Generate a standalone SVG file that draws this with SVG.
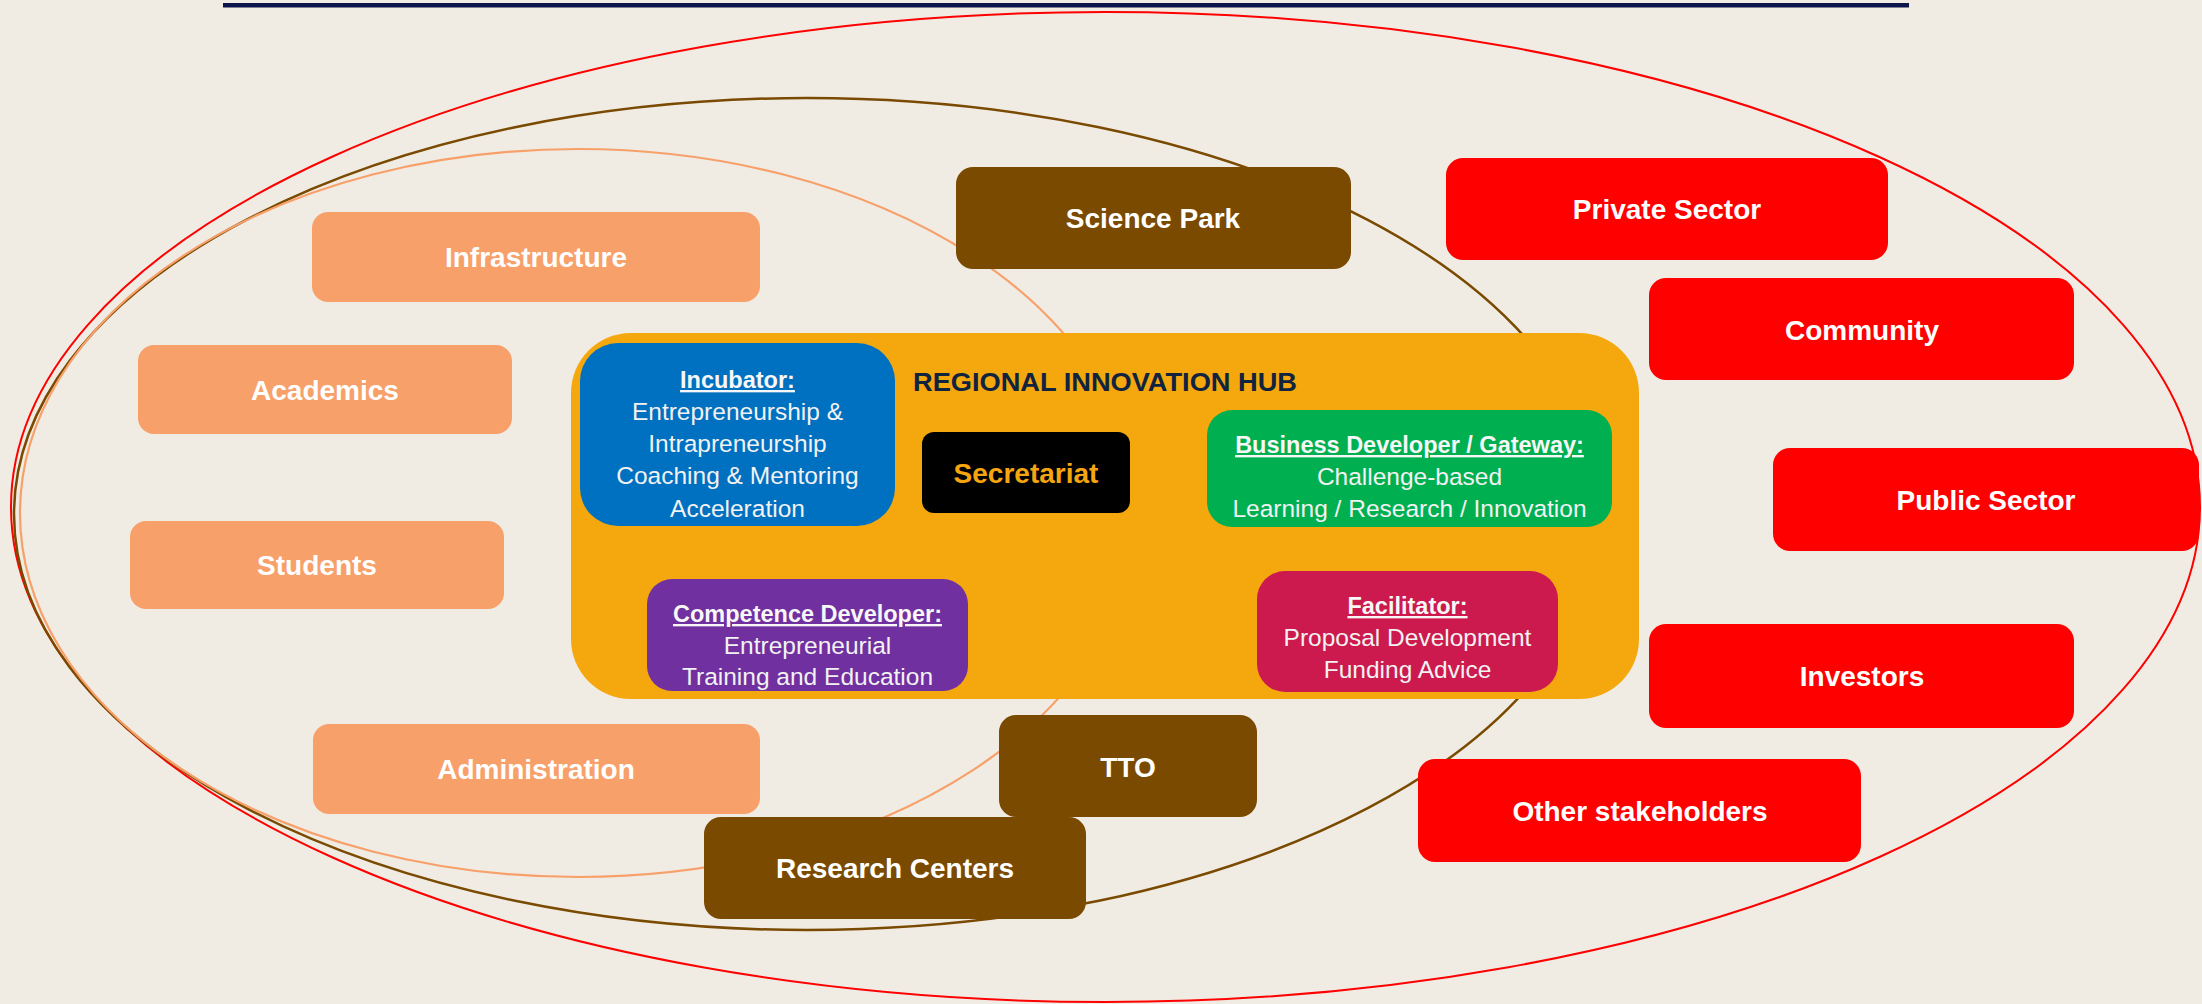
<svg xmlns="http://www.w3.org/2000/svg" width="2202" height="1004" viewBox="0 0 2202 1004">
<style>
.lbl{font-family:"Liberation Sans",Arial,sans-serif;font-weight:bold;font-size:28px;fill:#ffffff;text-anchor:middle}
.ttl{font-family:"Liberation Sans",Arial,sans-serif;font-weight:bold;font-size:23.5px;fill:#f7f7f7;text-anchor:middle;text-decoration:underline}
.body{font-family:"Liberation Sans",Arial,sans-serif;font-size:24.5px;fill:#f2f2f2;text-anchor:middle}
.peach{fill:#F8A06A}
.brown{fill:#7A4A00}
.red{fill:#FF0000}
.ring{fill:none}
</style>
<rect x="0" y="0" width="2202" height="1004" fill="#F0ECE4"/>
<rect x="223" y="3" width="1686" height="4.5" fill="#0B1549"/>

<g id="connectors">
  <ellipse class="ring" cx="1105.5" cy="507" rx="1094.5" ry="495" stroke="#FF0000" stroke-width="2"/>
  <ellipse class="ring" cx="807" cy="514" rx="793" ry="416" stroke="#7A4A00" stroke-width="2.5"/>
  <ellipse class="ring" cx="578" cy="513" rx="558" ry="364" stroke="#F8A06A" stroke-width="2.2"/>
</g>

<g id="infrastructure"><rect class="peach" x="312" y="212" width="448" height="90" rx="16"/><text class="lbl" x="536" y="267">Infrastructure</text></g>
<g id="academics"><rect class="peach" x="138" y="345" width="374" height="89" rx="16"/><text class="lbl" x="325" y="400">Academics</text></g>
<g id="students"><rect class="peach" x="130" y="521" width="374" height="88" rx="16"/><text class="lbl" x="317" y="575">Students</text></g>
<g id="administration"><rect class="peach" x="313" y="724" width="447" height="90" rx="16"/><text class="lbl" x="536" y="779">Administration</text></g>

<g id="science-park"><rect class="brown" x="956" y="167" width="395" height="102" rx="17"/><text class="lbl" x="1153" y="228">Science Park</text></g>
<g id="tto"><rect class="brown" x="999" y="715" width="258" height="102" rx="17"/><text class="lbl" x="1128" y="777">TTO</text></g>
<g id="research-centers"><rect class="brown" x="704" y="817" width="382" height="102" rx="17"/><text class="lbl" x="895" y="878">Research Centers</text></g>

<g id="private-sector"><rect class="red" x="1446" y="158" width="442" height="102" rx="17"/><text class="lbl" x="1667" y="219">Private Sector</text></g>
<g id="community"><rect class="red" x="1649" y="278" width="425" height="102" rx="17"/><text class="lbl" x="1862" y="340">Community</text></g>
<g id="public-sector"><rect class="red" x="1773" y="448" width="426" height="103" rx="17"/><text class="lbl" x="1986" y="510">Public Sector</text></g>
<g id="investors"><rect class="red" x="1649" y="624" width="425" height="104" rx="17"/><text class="lbl" x="1862" y="686">Investors</text></g>
<g id="other-stakeholders"><rect class="red" x="1418" y="759" width="443" height="103" rx="17"/><text class="lbl" x="1640" y="821">Other stakeholders</text></g>

<g id="hub">
  <rect x="571" y="333" width="1068" height="366" rx="60" fill="#F5A70E"/>
  <text x="913" y="391" font-family="'Liberation Sans',Arial,sans-serif" font-weight="bold" font-size="25.5" fill="#10233F" textLength="384" lengthAdjust="spacingAndGlyphs">REGIONAL INNOVATION HUB</text>
</g>

<g id="incubator">
  <rect x="580" y="343" width="315" height="183" rx="38" fill="#0070C0"/>
  <text class="ttl" x="737.5" y="388">Incubator:</text>
  <text class="body" x="737.5" y="420">Entrepreneurship &amp;</text>
  <text class="body" x="737.5" y="452">Intrapreneurship</text>
  <text class="body" x="737.5" y="484">Coaching &amp; Mentoring</text>
  <text class="body" x="737.5" y="517">Acceleration</text>
</g>

<g id="secretariat">
  <rect x="922" y="432" width="208" height="81" rx="12" fill="#000000"/>
  <text class="lbl" x="1026" y="483" style="fill:#F5A50F">Secretariat</text>
</g>

<g id="business-developer">
  <rect x="1207" y="410" width="405" height="117" rx="25" fill="#00B050"/>
  <text class="ttl" x="1409.5" y="453">Business Developer / Gateway:</text>
  <text class="body" x="1409.5" y="485">Challenge-based</text>
  <text class="body" x="1409.5" y="517">Learning / Research / Innovation</text>
</g>

<g id="competence-developer">
  <rect x="647" y="579" width="321" height="112" rx="25" fill="#7030A0"/>
  <text class="ttl" x="807.5" y="622">Competence Developer:</text>
  <text class="body" x="807.5" y="654">Entrepreneurial</text>
  <text class="body" x="807.5" y="685">Training and Education</text>
</g>

<g id="facilitator">
  <rect x="1257" y="571" width="301" height="121" rx="28" fill="#CC1A4E"/>
  <text class="ttl" x="1407.5" y="614">Facilitator:</text>
  <text class="body" x="1407.5" y="646">Proposal Development</text>
  <text class="body" x="1407.5" y="678">Funding Advice</text>
</g>
</svg>
